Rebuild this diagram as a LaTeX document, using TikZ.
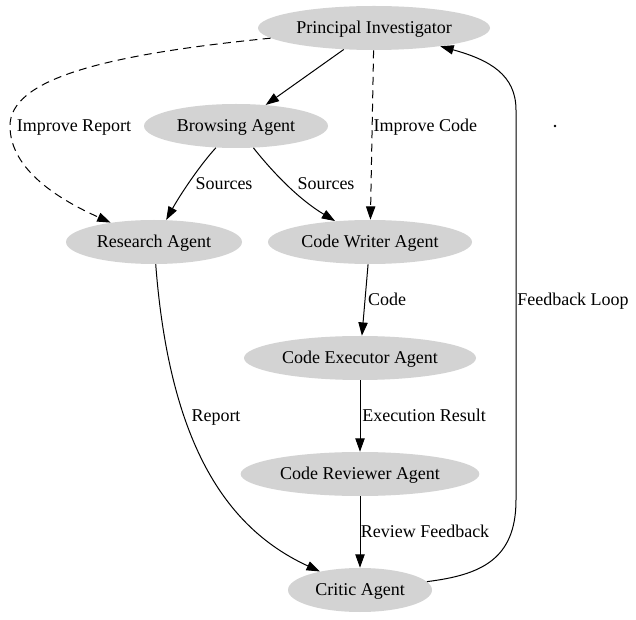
\documentclass[tikz,border=0pt]{standalone}
\usepackage{fontspec}
\setmainfont{Liberation Serif}
\usetikzlibrary{shapes.geometric,arrows.meta}
\tikzset{
  agent/.style={ellipse, fill={rgb,255:red,211;green,211;blue,211}, draw=none, inner sep=0pt, minimum height=33pt, text depth=1pt, font=\fontsize{13.5}{16}\selectfont},
  lbl/.style={font=\fontsize{13.5}{16}\selectfont, inner sep=1pt, text depth=1pt},
  arr/.style={-{Triangle[length=10pt,width=7pt]}, line width=0.75pt},
  dsh/.style={dash pattern=on 6pt off 4pt}
}
\begin{document}
\begin{tikzpicture}[x=0.75pt,y=-0.75pt]
\useasboundingbox (0,0) rectangle (636,620);
\node[agent, minimum width=174pt] (pi) at (374,28) {Principal Investigator};
\node[agent, minimum width=138pt] (br) at (236,126) {Browsing Agent};
\node[agent, minimum width=132pt] (res) at (154,242) {Research Agent};
\node[agent, minimum width=153pt] (cw) at (370,242) {Code Writer Agent};
\node[agent, minimum width=174pt] (ce) at (360,358) {Code Executor Agent};
\node[agent, minimum width=179pt] (cr) at (360,474) {Code Reviewer Agent};
\node[agent, minimum width=108pt] (cri) at (360,590) {Critic Agent};
\node[circle, fill=black, inner sep=0pt, minimum size=2.2pt] (dot) at (555,126) {};

\draw[arr] (pi) -- (br);
\draw[arr,dsh] (pi) .. controls (100,55) and (10,80) .. (10,126) .. controls (10,170) and (60,200) .. (res);
\node[lbl] (l1) at (74,126) {Improve Report};
\draw[arr,dsh] (pi) -- (cw);
\node[lbl, anchor=west] (l2) at (372,126) {Improve Code};
\draw[arr] (br) .. controls (200,165) and (180,195) .. (res);
\node[lbl] (l3) at (224,184) {Sources};
\draw[arr] (br) .. controls (275,175) and (300,200) .. (cw);
\node[lbl] (l4) at (326,184) {Sources};
\draw[arr] (cw) -- (ce);
\node[lbl] (l5) at (387,300) {Code};
\draw[arr] (ce) -- (cr);
\node[lbl] (l6) at (424,416) {Execution Result};
\draw[arr] (cr) -- (cri);
\node[lbl] (l7) at (425,532) {Review Feedback};
\draw[arr] (res) .. controls (170,450) and (230,530) .. (cri);
\node[lbl] (l8) at (216,416) {Report};
\draw[arr] (cri) .. controls (480,575) and (516,560) .. (516,500) -- (516,110) .. controls (516,75) and (490,60) .. (pi);
\node[lbl] (l9) at (573,300) {Feedback Loop};
\end{tikzpicture}
\end{document}
